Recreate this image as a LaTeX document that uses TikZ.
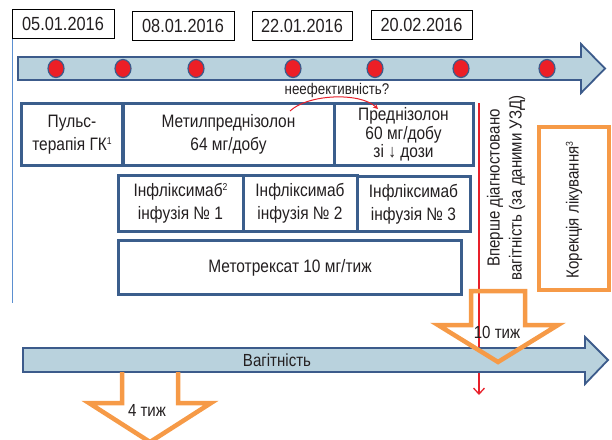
\documentclass[tikz,border=0pt]{standalone}
\usepackage{fontspec}
\setmainfont{Liberation Sans}[FakeStretch=0.86]
\usetikzlibrary{arrows.meta}
\definecolor{boxblue}{HTML}{3B5E8C}
\definecolor{barfill}{HTML}{B9D2DD}
\definecolor{barline}{HTML}{3C5B8B}
\definecolor{dotred}{HTML}{EC1F26}
\definecolor{weekorange}{HTML}{F69A47}
\definecolor{linered}{HTML}{E8202A}
\definecolor{thinblue}{HTML}{5B8FD0}
\definecolor{ink}{HTML}{231F20}
\newcommand\supnum[1]{\raisebox{0.33em}{\fontsize{10}{10}\selectfont #1}}

\begin{document}
\begin{tikzpicture}[x=1pt,y=-1pt,text=ink,
  datebox/.style={draw=black,line width=0.8pt,minimum height=29pt,inner sep=0pt,font=\fontsize{19}{22}\selectfont},
  drugbox/.style={draw=boxblue,line width=3pt,fill=white,inner sep=0pt,align=center,font=\fontsize{18}{23}\selectfont},
  bar/.style={draw=barline,line width=1.8pt,fill=barfill,line join=miter},
  week/.style={draw=weekorange,line width=4.5pt,line join=miter},
  label/.style={inner sep=0pt,font=\fontsize{17.5}{22}\selectfont}]
\useasboundingbox (0,0) rectangle (612,439);
\clip (0,0) rectangle (612,439);

% dates
\node[datebox,minimum width=102pt] (d1) at (63,24) {05.01.2016};
\node[datebox,minimum width=102pt] (d2) at (183,25.5) {08.01.2016};
\node[datebox,minimum width=100pt] (d3) at (302,25.5) {22.01.2016};
\node[datebox,minimum width=101pt] (d4) at (421.5,25) {20.02.2016};
\coordinate (lineend) at (12,303);
\draw[thinblue,line width=1pt] (d1.south west -| lineend) -- (lineend);

% time axis
\draw[bar] (18,57) -- (581,57) -- (581,44) -- (605,68.5) -- (581,93) -- (581,80) -- (18,80) -- cycle;
\foreach \x in {56,123,196,293,375,461,547}
  \draw[barline,line width=1.2pt,fill=dotred] (\x,68.5) ellipse (8pt and 9pt);

% therapy
\node[drugbox,minimum width=101pt,minimum height=62pt] (b1) at (72,134.5) {Пульс-\\терапія ГК\supnum{1}};
\node[drugbox,minimum width=211pt,minimum height=62pt] (b2) at (228.5,134.5) {Метилпреднізолон\\64 мг/добу};
\node[drugbox,minimum width=139pt,minimum height=62pt,font=\fontsize{18}{18.5}\selectfont] (b3) at (403.5,134.5) {Преднізолон\\60 мг/добу\\зі ↓ дози};
\node[drugbox,minimum width=125pt,minimum height=56pt] (i1) at (180.5,203.5) {Інфліксимаб\supnum{2}\\інфузія № 1};
\node[drugbox,minimum width=114pt,minimum height=56pt] (i2) at (300,203.5) {Інфліксимаб\\інфузія № 2};
\node[drugbox,minimum width=113pt,minimum height=55pt] (i3) at (413.5,204) {Інфліксимаб\\інфузія № 3};
\node[drugbox,minimum width=343pt,minimum height=54pt] (mtx) at (290,267.5) {Метотрексат 10 мг/тиж};

% failure
\node[inner sep=0pt,font=\fontsize{15.5}{18}\selectfont] (fail) at (337,90) {неефективність?};
\coordinate (arcA) at (290,111);
\coordinate (arcB) at (378,109);
\draw[linered,line width=1pt,-{Stealth[length=5pt,width=5pt]}] (arcA) .. controls (308,94) and (360,92) .. (arcB);

% pregnancy detected
\coordinate (redtop) at (479,103);
\coordinate (redbot) at (479,395);
\draw[linered,line width=1.3pt,-{Straight Barb[length=6pt,width=11pt]}] (redtop) -- (redbot);
\node[label,rotate=90,align=center] (uzd) at (506,188) {Вперше діагностовано\\вагітність (за даними УЗД)};
\node[draw=weekorange,line width=4.5pt,minimum width=70pt,minimum height=163pt,inner sep=0pt] (fix) at (574,208.5) {};
\node[label,rotate=90] (fixtext) at (574,210) {Корекція лікування\supnum{3}};

% pregnancy axis
\draw[bar] (23,348) -- (585,348) -- (585,337) -- (608,360) -- (585,384) -- (585,372) -- (23,372) -- cycle;
\node[label] (preg) at (277,360) {Вагітність};

% weeks
\draw[week] (471,291) -- (525,291) -- (525,325) -- (558,325) -- (498,362) -- (438,325) -- (471,325) -- cycle;
\node[label] (w10) at (497,332) {10 тиж};
\draw[week] (122,372) -- (122,403) -- (89,403) -- (150,442) -- (211,403) -- (178,403) -- (178,372);
\node[label] (w4) at (147,410) {4 тиж};
\end{tikzpicture}
\end{document}
